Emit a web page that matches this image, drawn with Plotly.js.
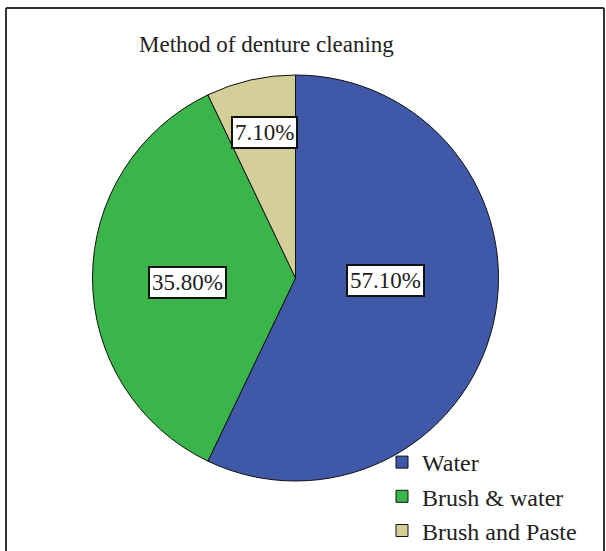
<!DOCTYPE html>
<html>
<head>
<meta charset="utf-8">
<script src="https://cdn.plot.ly/plotly-3.0.1.min.js"></script>
<style>html,body{margin:0;padding:0;background:#fff;}#chart{width:606px;height:551px;}</style>
</head>
<body>
<div id="chart"></div>
<script>
const categories = ["Water", "Brush & water", "Brush and Paste"];
const values = [57.1, 35.8, 7.1];
const valueLabels = ["57.10%", "35.80%", "7.10%"];
const sliceColors = ["#3F59A8", "#3AB54A", "#D4CE98"];

// label anchor positions (paper fractions) for the boxed percentage labels
const labelX = [385/606, 187/606, 264/606];
const labelY = [1-280/551, 1-282/551, 1-132/551];

const serif = "Liberation Serif, Times New Roman, serif";

const trace = {
  type: "pie",
  labels: categories,
  values: values,
  sort: false,
  direction: "clockwise",
  rotation: 0,
  marker: {colors: sliceColors, line: {color: "#111", width: 1}},
  textinfo: "none",
  hoverinfo: "label+percent",
  domain: {x: [92/606, 499/606], y: [1-481/551, 1-75/551]}
};

const annotations = valueLabels.map((t, i) => ({
  text: t, x: labelX[i], y: labelY[i], xref: "paper", yref: "paper",
  showarrow: false, xanchor: "center", yanchor: "middle",
  font: {family: serif, size: 23, color: "#222"},
  bgcolor: "#fff", bordercolor: "#111", borderwidth: 2, borderpad: 2
}));
annotations.push({
  text: "Method of denture cleaning", x: 266/606, y: 1-45/551,
  xref: "paper", yref: "paper", showarrow: false, xanchor: "center", yanchor: "middle",
  font: {family: serif, size: 23, color: "#222"}
});

const layout = {
  width: 606, height: 551,
  margin: {l: 0, r: 0, t: 0, b: 0, autoexpand: false},
  paper_bgcolor: "#fff",
  showlegend: true,
  legend: {
    x: 382/606, y: 1-440/551, xanchor: "left", yanchor: "top",
    bgcolor: "rgba(0,0,0,0)",
    font: {family: serif, size: 24, color: "#222"},
    traceorder: "normal", tracegroupgap: 0
  },
  annotations: annotations,
  shapes: [
    {type: "line", xref: "paper", yref: "paper", x0: 6/606, x1: 6/606, y0: 1-8/551, y1: -0.05, line: {color: "#333", width: 2}},
    {type: "line", xref: "paper", yref: "paper", x0: 6/606, x1: 604/606, y0: 1-8/551, y1: 1-8/551, line: {color: "#333", width: 2}},
    {type: "line", xref: "paper", yref: "paper", x0: 604/606, x1: 604/606, y0: 1-8/551, y1: -0.05, line: {color: "#333", width: 2}}
  ]
};

Plotly.newPlot("chart", [trace], layout, {displayModeBar: false, staticPlot: true});
</script>
</body>
</html>
